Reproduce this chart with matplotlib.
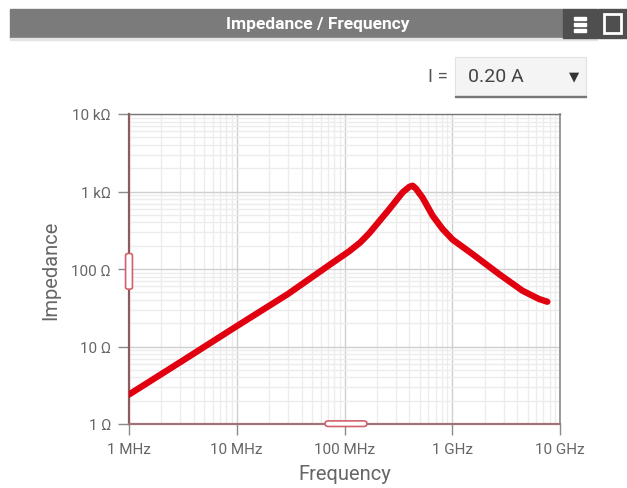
import matplotlib
matplotlib.use("Agg")
import matplotlib.pyplot as plt
from matplotlib.patches import Rectangle, FancyBboxPatch
from matplotlib.ticker import FixedLocator, NullFormatter, LogLocator

plt.rcParams['font.family'] = ['Roboto', 'DejaVu Sans']

# Data (frequency in Hz, impedance in Ohm)
freq_hz = [1e6, 3e6, 10e6, 30e6, 72.6e6, 111e6, 140e6, 170e6, 261e6, 347e6, 400e6, 429e6,
           460e6, 531e6, 657e6, 813e6, 1.006e9, 1.54e9, 2.72e9, 4.48e9, 6.39e9, 7.63e9]
impedance = [2.4, 6.3, 18.3, 47.8, 113, 170, 220, 290, 594, 977, 1150, 1188,
             1090, 830, 488, 328, 240, 156, 86, 52.5, 41, 37.8]

x_ticks = [1e6, 1e7, 1e8, 1e9, 1e10]
x_labels = ["1 MHz", "10 MHz", "100 MHz", "1 GHz", "10 GHz"]
y_ticks = [1, 10, 100, 1000, 10000]
y_labels = ["1 Ω", "10 Ω", "100 Ω", "1 kΩ", "10 kΩ"]

W, H = 627, 489
fig = plt.figure(figsize=(W / 100, H / 100), dpi=100)

def fx(px):
    return px / W

def fy(py):
    return 1 - py / H

# Title bar
fig.patches.append(Rectangle((fx(10), fy(39)), fx(563 - 10), (29) / H,
                             transform=fig.transFigure, color="#7b7b7b", zorder=1))
fig.patches.append(Rectangle((fx(10), fy(41)), fx(587), 2 / H,
                             transform=fig.transFigure, color="#e4e4e4", zorder=1))
fig.patches.append(Rectangle((fx(563), fy(39)), fx(34), 29 / H,
                             transform=fig.transFigure, color="#4f4f4f", zorder=1))
fig.patches.append(Rectangle((fx(598), fy(39)), fx(29), 29 / H,
                             transform=fig.transFigure, color="#4f4f4f", zorder=1))
fig.patches.append(Rectangle((fx(604), fy(34)), fx(17), 19 / H,
                             transform=fig.transFigure, facecolor="#4f4f4f",
                             edgecolor="white", linewidth=2, zorder=2))
for yy in (19, 25, 31):
    fig.patches.append(Rectangle((fx(574), fy(yy + 1.5)), fx(12), 3 / H,
                                 transform=fig.transFigure, color="white", zorder=2))
fig.text(fx(318), fy(24), "Impedance / Frequency", color="white", fontsize=12.5,
         fontweight="bold", ha="center", va="center")

# Dropdown
fig.text(fx(438), fy(77), "I =", color="#555555", fontsize=13.5, ha="center", va="center")
fig.patches.append(Rectangle((fx(455), fy(97)), fx(131), 39 / H,
                             transform=fig.transFigure, facecolor="#f4f4f4",
                             edgecolor="#e2e2e2", linewidth=0.8, zorder=1))
fig.patches.append(Rectangle((fx(455), fy(98)), fx(131), 1.5 / H,
                             transform=fig.transFigure, color="#777777", zorder=2))
fig.text(fx(468), fy(77), "0.20 A", color="#444444", fontsize=14, ha="left", va="center")
fig.text(fx(574), fy(77), "▼", color="#333333", fontsize=9.5, ha="center", va="center",
         family=["DejaVu Sans"])

# Axes
ax = fig.add_axes([fx(129), fy(425), fx(560 - 129), (425 - 115) / H])
ax.set_xscale("log")
ax.set_yscale("log")
ax.set_xlim(1e6, 1e10)
ax.set_ylim(1, 1e4)

ax.plot(freq_hz, impedance, color="#e1000f", linewidth=4.6, solid_capstyle="round",
        solid_joinstyle="round", zorder=5)

ax.xaxis.set_major_locator(FixedLocator(x_ticks))
ax.set_xticklabels(x_labels)
ax.yaxis.set_major_locator(FixedLocator(y_ticks))
ax.set_yticklabels(y_labels)
ax.xaxis.set_minor_locator(LogLocator(base=10, subs=range(2, 10), numticks=20))
ax.yaxis.set_minor_locator(LogLocator(base=10, subs=range(2, 10), numticks=20))
ax.xaxis.set_minor_formatter(NullFormatter())
ax.yaxis.set_minor_formatter(NullFormatter())

ax.grid(True, which="major", color="#cfcfcf", linewidth=1.0)
ax.grid(True, which="minor", color="#ececec", linewidth=1.0)
ax.set_axisbelow(True)

ax.tick_params(axis="both", which="minor", length=0)
ax.tick_params(axis="both", which="major", length=8, width=1, color="#8a8a8a",
               labelcolor="#666666", labelsize=11, pad=5)

ax.spines["left"].set_color("#8c5a5f")
ax.spines["left"].set_linewidth(1.6)
ax.spines["bottom"].set_color("#a0727a")
ax.spines["bottom"].set_linewidth(1.6)
ax.spines["top"].set_color("#777777")
ax.spines["top"].set_linewidth(1.0)
ax.spines["right"].set_color("#888888")
ax.spines["right"].set_linewidth(1.2)
ax.spines["right"].set_linestyle((0, (4, 1)))

ax.set_xlabel("Frequency", color="#666666", fontsize=14.5, labelpad=6)
ax.set_ylabel("Impedance", color="#666666", fontsize=14.5, labelpad=8)

# Scrollbar handles
ax.add_patch(FancyBboxPatch((-0.008, 0.435), 0.016, 0.115,
                            boxstyle="round,pad=0,rounding_size=0.006",
                            transform=ax.transAxes, facecolor="white",
                            edgecolor="#d2606a", linewidth=1.2, clip_on=False, zorder=6))
ax.add_patch(FancyBboxPatch((0.455, -0.008), 0.097, 0.018,
                            boxstyle="round,pad=0,rounding_size=0.008",
                            transform=ax.transAxes, facecolor="white",
                            edgecolor="#d2606a", linewidth=1.2, clip_on=False, zorder=6))

fig.savefig("out.png", dpi=100)
